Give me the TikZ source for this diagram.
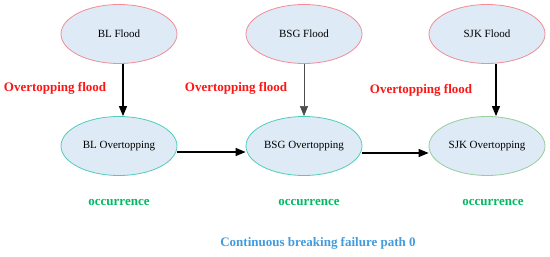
\documentclass[tikz,border=0pt]{standalone}
\usepackage{fontspec}
\setmainfont{Liberation Serif}
\usepackage{xcolor}
\usepackage{tikz}
\usetikzlibrary{arrows.meta,shapes.geometric}
\definecolor{nodefill}{RGB}{222,234,246}
\definecolor{floodline}{RGB}{242,140,150}
\definecolor{overline}{RGB}{80,205,185}
\definecolor{sjkline}{RGB}{150,205,155}
\definecolor{floodred}{RGB}{255,20,20}
\definecolor{occgreen}{RGB}{0,185,100}
\definecolor{pathblue}{RGB}{65,155,220}

\begin{document}
\begin{tikzpicture}[x=1pt,y=-1pt,
    event/.style={ellipse, fill=nodefill, minimum width=116pt, minimum height=59pt,
        inner sep=0pt, line width=0.8pt, font=\fontsize{11}{13}\selectfont},
    lbl/.style={font=\fontsize{13}{15}\selectfont\bfseries},
    link/.style={-{Triangle[length=10pt,width=8pt]}, line width=1.1pt}]
    \useasboundingbox (0,0) rectangle (550,257);
    % top row: floods
    \node[event, draw=floodline] (blflood) at (119,34) {BL Flood};
    \node[event, draw=floodline] (bsgflood) at (304,34) {BSG Flood};
    \node[event, draw=floodline] (sjkflood) at (487,34) {SJK Flood};
    % bottom row: overtopping
    \node[event, draw=overline] (blover) at (119,146) {BL Overtopping};
    \node[event, draw=overline] (bsgover) at (304,146) {BSG Overtopping};
    \node[event, draw=sjkline] (sjkover) at (487,146) {SJK Overtopping};
    % labels
    \node[lbl, text=floodred] (flood1) at (55,88) {Overtopping flood};
    \node[lbl, text=floodred] (flood2) at (236,88) {Overtopping flood};
    \node[lbl, text=floodred] (flood3) at (421,90) {Overtopping flood};
    \node[lbl, text=occgreen] (occ1) at (119,203) {occurrence};
    \node[lbl, text=occgreen] (occ2) at (309,203) {occurrence};
    \node[lbl, text=occgreen] (occ3) at (493,203) {occurrence};
    \node[lbl, text=pathblue] (pathname) at (318,243) {Continuous breaking failure path 0};
    % arrows
    \draw[link] ([xshift=4pt]blflood.south) -- ([xshift=4pt]blover.north);
    \draw[link, line width=0.6pt, black!70] (bsgflood.south) -- (bsgover.north);
    \draw[link] ([xshift=9pt]sjkflood.south) -- ([xshift=9pt]sjkover.north);
    \draw[link] ([yshift=-6pt]blover.east) -- ([yshift=-6pt]bsgover.west);
    \draw[link] ([yshift=-7pt]bsgover.east) -- ([yshift=-7pt]sjkover.west);
\end{tikzpicture}
\end{document}
